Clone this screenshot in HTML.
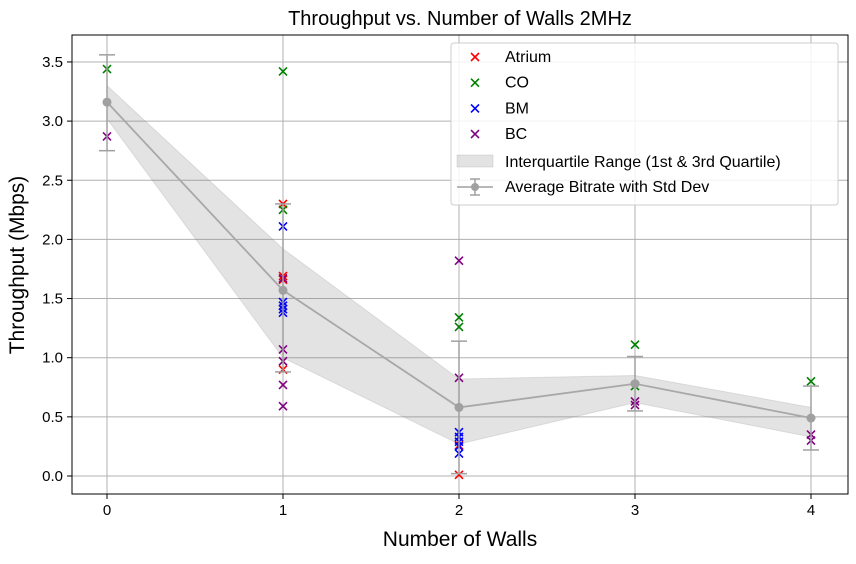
<!DOCTYPE html>
<html><head><meta charset="utf-8"><style>
body{margin:0;background:#fff;font-family:"Liberation Sans",sans-serif}
</style></head><body>
<svg id="c" width="856" height="559" xmlns="http://www.w3.org/2000/svg" font-family="Liberation Sans, sans-serif"></svg>
<script>
const xTicks=[0,1,2,3,4];
const yTicks=[0,0.5,1,1.5,2,2.5,3,3.5];
const yTickLabels=["0.0","0.5","1.0","1.5","2.0","2.5","3.0","3.5"];
const atriumX=[1,1,1,1,2,2];
const atriumY=[2.30,1.69,1.66,0.90,0.26,0.01];
const coX=[0,1,1,2,2,3,3,4];
const coY=[3.44,3.42,2.25,1.34,1.26,1.11,0.76,0.80];
const bmX=[1,1,1,1,1,2,2,2,2,2];
const bmY=[2.11,1.47,1.44,1.41,1.38,0.37,0.33,0.29,0.25,0.19];
const bcX=[0,1,1,1,1,1,2,2,3,3,4,4];
const bcY=[2.87,1.67,1.07,0.97,0.77,0.59,1.82,0.83,0.63,0.60,0.35,0.30];
const avgY=[3.16,1.57,0.58,0.78,0.49];
const stdHi=[3.56,2.30,1.14,1.01,0.76];
const stdLo=[2.75,0.88,0.02,0.55,0.22];
const q3=[3.30,1.92,0.82,0.85,0.58];
const q1=[3.02,1.00,0.27,0.62,0.33];

const NS="http://www.w3.org/2000/svg";
const svg=document.getElementById('c');
const L=72,R=848,T=35,B=494;
const xs=v=>107+v*176;
const ys=v=>476-v*118.3;
function el(t,a,p){const e=document.createElementNS(NS,t);for(const k in a)e.setAttribute(k,a[k]);(p||svg).appendChild(e);return e;}
xTicks.forEach(v=>{const g=el('line',{x1:xs(v),x2:xs(v),y1:T,y2:B,stroke:'#b0b0b0','stroke-width':1});
});
yTicks.forEach(v=>{const g=el('line',{x1:L,x2:R,y1:ys(v),y2:ys(v),stroke:'#b0b0b0','stroke-width':1});
});
let pts=xTicks.map((v,i)=>xs(v)+','+ys(q3[i])).concat(xTicks.slice().reverse().map((v,j)=>xs(v)+','+ys(q1[4-j])));
const band=el('polygon',{points:pts.join(' '),fill:'#808080','fill-opacity':0.22,stroke:'#808080','stroke-opacity':0.2});

function cross(xa,ya,col,name){xa.forEach((x,i)=>{const g=el('g',{stroke:col,'stroke-width':1.6});

const cx=xs(x),cy=ys(ya[i]);el('line',{x1:cx-4,y1:cy-4,x2:cx+4,y2:cy+4},g);el('line',{x1:cx-4,y1:cy+4,x2:cx+4,y2:cy-4},g);});}
cross(atriumX,atriumY,'#ff0000','atrium-point');
cross(coX,coY,'#008000','co-point');
cross(bmX,bmY,'#0000ff','bm-point');
cross(bcX,bcY,'#800080','bc-point');
xTicks.forEach((v,i)=>{const g=el('g',{stroke:'#a0a0a0','stroke-width':1.5});

el('line',{x1:xs(v),x2:xs(v),y1:ys(stdHi[i]),y2:ys(stdLo[i])},g);
el('line',{x1:xs(v)-8,x2:xs(v)+8,y1:ys(stdHi[i]),y2:ys(stdHi[i])},g);
el('line',{x1:xs(v)-8,x2:xs(v)+8,y1:ys(stdLo[i]),y2:ys(stdLo[i])},g);});
const ln=el('polyline',{points:xTicks.map((v,i)=>xs(v)+','+ys(avgY[i])).join(' '),fill:'none',stroke:'#a8a8a8','stroke-width':1.8});

xTicks.forEach((v,i)=>{const c=el('circle',{cx:xs(v),cy:ys(avgY[i]),r:4.5,fill:'#a0a0a0'});
});
const fr=el('rect',{x:L,y:T,width:R-L,height:B-T,fill:'none',stroke:'#000','stroke-width':1});

xTicks.forEach(v=>{el('line',{x1:xs(v),x2:xs(v),y1:B,y2:B+5,stroke:'#000'});
const t=el('text',{x:xs(v),y:B+21,'text-anchor':'middle','font-size':15});t.textContent=v;
});
yTicks.forEach((v,i)=>{el('line',{x1:L-5,x2:L,y1:ys(v),y2:ys(v),stroke:'#000'});
const t=el('text',{x:L-9,y:ys(v)+5,'text-anchor':'end','font-size':15});t.textContent=yTickLabels[i];
});
let t=el('text',{x:460,y:25,'text-anchor':'middle','font-size':20});t.textContent='Throughput vs. Number of Walls 2MHz';

t=el('text',{x:460,y:546,'text-anchor':'middle','font-size':21});t.textContent='Number of Walls';

t=el('text',{x:0,y:0,'text-anchor':'middle','font-size':21,transform:'translate(24,265) rotate(-90)'});t.textContent='Throughput (Mbps)';

const lg=el('g',{});
el('rect',{x:451,y:43,width:387,height:162,rx:3,fill:'#fff','fill-opacity':0.85,stroke:'#ccc'},lg);
const items=[['Atrium','#ff0000'],['CO','#008000'],['BM','#0000ff'],['BC','#800080']];
items.forEach((it,i)=>{const y=57+i*25.7;const g=el('g',{stroke:it[1],'stroke-width':1.6},lg);
el('line',{x1:471,y1:y-4,x2:479,y2:y+4},g);el('line',{x1:471,y1:y+4,x2:479,y2:y-4},g);
const tx=el('text',{x:505,y:y+5,'font-size':16},lg);tx.textContent=it[0];
});
el('rect',{x:457,y:155,width:36,height:12,fill:'#808080','fill-opacity':0.22,stroke:'#808080','stroke-opacity':0.2},lg);
let tx=el('text',{x:505,y:167,'font-size':16},lg);tx.textContent='Interquartile Range (1st & 3rd Quartile)';

const g2=el('g',{stroke:'#a0a0a0','stroke-width':1.5},lg);
el('line',{x1:457,x2:493,y1:187,y2:187},g2);el('line',{x1:475,x2:475,y1:179,y2:195},g2);
el('line',{x1:470,x2:480,y1:179,y2:179},g2);el('line',{x1:470,x2:480,y1:195,y2:195},g2);
el('circle',{cx:475,cy:187,r:4,fill:'#a0a0a0',stroke:'none'},lg);
tx=el('text',{x:505,y:192,'font-size':16},lg);tx.textContent='Average Bitrate with Std Dev';

</script>
</body></html>
